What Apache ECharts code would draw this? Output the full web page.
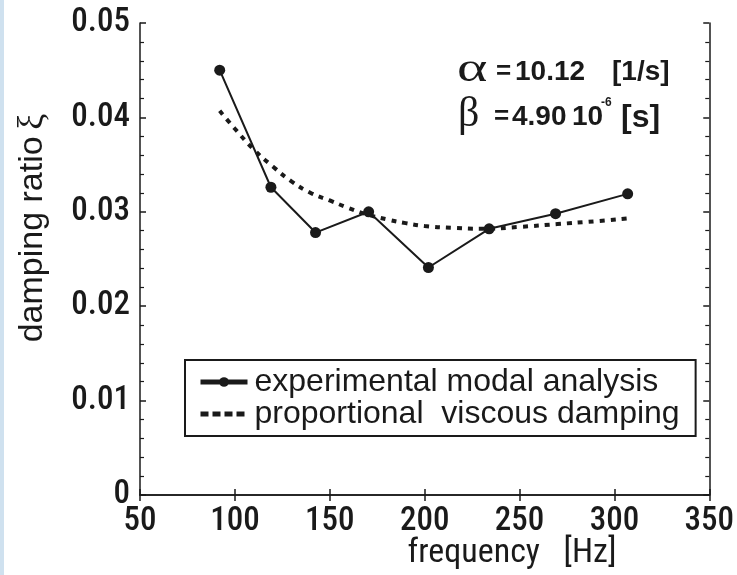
<!DOCTYPE html>
<html>
<head>
<meta charset="utf-8">
<script src="https://cdn.jsdelivr.net/npm/echarts@6/dist/echarts.min.js"></script>
<style>html,body{margin:0;padding:0;background:#fff;}#c{width:737px;height:575px;}</style>
</head>
<body>
<div id="c"></div>
<script>
// Experimental modal analysis points
var expFreq = [92, 119, 142.5, 170.5, 202, 234, 269, 307];
var expDamp = [0.0450, 0.0326, 0.0278, 0.0300, 0.0241, 0.0282, 0.0298, 0.0319];
// Proportional viscous damping curve
var fitFreq = [92, 100, 110, 120, 130, 140, 150, 160, 170, 180, 190, 200, 215, 230, 250, 270, 290, 307];
var fitDamp = [0.0407, 0.0388, 0.0366, 0.0348, 0.0332, 0.0320, 0.0312, 0.0304, 0.0297, 0.0292, 0.0288, 0.0285, 0.0283, 0.0282, 0.0284, 0.0287, 0.0290, 0.0293];
var seriesNames = ['experimental modal analysis', 'proportional  viscous damping'];
var xTicks = [50, 100, 150, 200, 250, 300, 350];
var yTicks = [0, 0.01, 0.02, 0.03, 0.04, 0.05];

function pairs(xs, ys) { return xs.map(function (x, i) { return [x, ys[i]]; }); }

var narrow = '"Roboto Condensed", Roboto, sans-serif';
var sans = '"Liberation Sans", Arial, sans-serif';
var serif = '"Liberation Serif", serif';
var ink = '#1a1a1a';

function txt(x, y, text, family, size, weight, extra) {
  var el = {
    type: 'text', x: x, y: y,
    style: {text: text, align: 'left', verticalAlign: 'middle', fontFamily: family, fontSize: size, fontWeight: weight || 'normal', fill: ink}
  };
  return Object.assign(el, extra || {});
}

var chart = echarts.init(document.getElementById('c'), null, {renderer: 'canvas'});
var axisCommon = {
  type: 'value',
  axisLine: {show: true, lineStyle: {color: ink, width: 1.5}},
  axisTick: {show: true, inside: true, length: 6, lineStyle: {color: ink, width: 1.5}},
  splitLine: {show: false}
};
chart.setOption({
  animation: false,
  backgroundColor: '#fff',
  grid: {left: 140, right: 25, top: 23, bottom: 80},
  xAxis: [
    Object.assign({}, axisCommon, {
      position: 'bottom', min: xTicks[0], max: xTicks[xTicks.length - 1], interval: 50,
      axisLabel: {fontFamily: narrow, fontSize: 33, fontWeight: 500, color: ink, margin: 10}
    }),
    Object.assign({}, axisCommon, {
      position: 'top', min: xTicks[0], max: xTicks[xTicks.length - 1], interval: 50,
      axisLabel: {show: false}
    })
  ],
  yAxis: [
    Object.assign({}, axisCommon, {
      position: 'left', min: yTicks[0], max: yTicks[yTicks.length - 1], interval: 0.01,
      minorTick: {show: true, splitNumber: 5, length: 4, lineStyle: {color: ink, width: 1.2}},
      axisLabel: {fontFamily: narrow, fontSize: 33, fontWeight: 500, color: ink, margin: 10}
    }),
    Object.assign({}, axisCommon, {
      position: 'right', min: yTicks[0], max: yTicks[yTicks.length - 1], interval: 0.01,
      minorTick: {show: true, splitNumber: 5, length: 4, lineStyle: {color: ink, width: 1.2}},
      axisLabel: {show: false}
    })
  ],
  legend: {
    orient: 'vertical', left: 185, top: 360,
    padding: [6, 16, 6, 13], itemGap: 0, itemWidth: 47, itemHeight: 12,
    backgroundColor: '#fff', borderColor: ink, borderWidth: 2, borderRadius: 0,
    textStyle: {fontFamily: sans, fontSize: 32, color: ink, padding: [0, 0, 0, 2]},
    data: [
      {name: seriesNames[0], lineStyle: {width: 5}},
      {name: seriesNames[1], itemStyle: {opacity: 0}, lineStyle: {width: 5, type: [8, 4]}}
    ]
  },
  series: [
    {
      name: seriesNames[1], type: 'line', data: pairs(fitFreq, fitDamp), smooth: true,
      symbol: 'none', z: 2,
      lineStyle: {color: ink, width: 4, type: [5, 6]}, itemStyle: {color: ink}
    },
    {
      name: seriesNames[0], type: 'line', data: pairs(expFreq, expDamp),
      symbol: 'circle', symbolSize: 11, z: 3,
      lineStyle: {color: ink, width: 2}, itemStyle: {color: ink}
    }
  ],
  graphic: [
    {type: 'rect', left: 0, top: 0, shape: {width: 4, height: 575}, style: {fill: '#cfe1ef'}, silent: true},
    {
      type: 'text', x: 33, y: 228, rotation: Math.PI / 2,
      style: {
        text: '{a|damping ratio}  {b|ξ}', align: 'center', verticalAlign: 'middle',
        rich: {
          a: {fontFamily: sans, fontSize: 34, fill: ink},
          b: {fontFamily: serif, fontSize: 36, fill: ink}
        }
      }
    },
    {
      type: 'text', x: 512, y: 553,
      style: {text: 'frequency   [Hz]', align: 'center', verticalAlign: 'middle', fontFamily: narrow, fontSize: 34, fill: ink}
    },
    txt(457, 70, 'α', serif, 40, 'normal', {scaleX: 1.45}),
    txt(496, 72, '=', sans, 26, 'bold'),
    txt(515, 72, '10.12', sans, 28, 'bold'),
    txt(612, 72, '[1/s]', sans, 28, 'bold'),
    txt(458, 115, 'β', serif, 42, 'normal'),
    txt(494, 117, '=', sans, 26, 'bold'),
    txt(512, 117, '4.90', sans, 28, 'bold'),
    txt(572, 117, '10', sans, 28, 'bold'),
    txt(601, 103, '-6', sans, 12, 'bold'),
    txt(621, 118, '[s]', sans, 32, 'bold')
  ]
});
</script>
</body>
</html>
